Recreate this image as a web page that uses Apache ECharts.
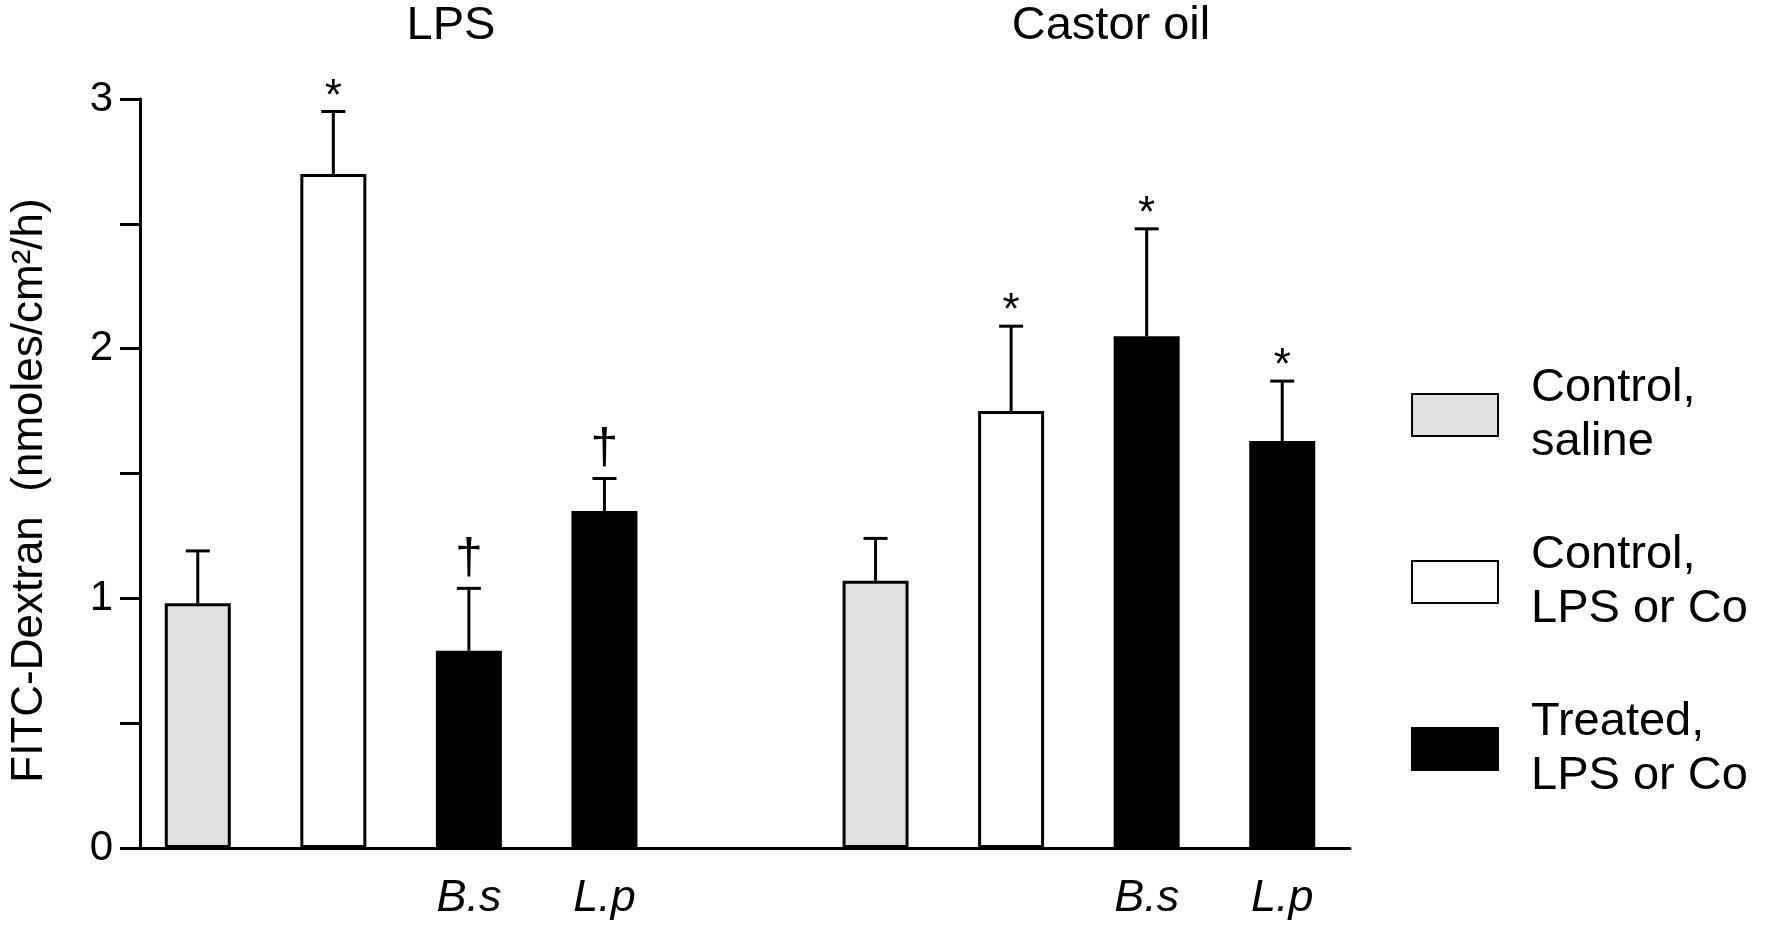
<!DOCTYPE html>
<html style="height: 100%">
<head>
    <meta charset="utf-8">
</head>
<body style="height: 100%; margin: 0; background: #fff">
<div id="container" style="height: 100%"></div>
<script type="text/javascript" src="https://cdn.jsdelivr.net/npm/echarts@6/dist/echarts.min.js"></script>
<script type="text/javascript">
    // slots: LPS (4 bars), spacer, Castor oil (4 bars)
    var categories = ['', '', 'B.s', 'L.p', '', '', '', 'B.s', 'L.p'];
    var salineVals = [0.98, '-', '-', '-', '-', 1.07, '-', '-', '-'];
    var controlVals = ['-', 2.70, '-', '-', '-', '-', 1.75, '-', '-'];
    var treatedVals = ['-', '-', 0.79, 1.35, '-', '-', '-', 2.05, 1.63];
    var errors = [0.21, 0.25, 0.25, 0.13, null, 0.17, 0.34, 0.43, 0.24];
    var marks = ['', '*', '\u2020', '\u2020', '', '', '*', '*', '*'];
    var groupTitles = ['LPS', 'Castor oil'];
    var legendNames = ['Control,\nsaline', 'Control,\nLPS or Co', 'Treated,\nLPS or Co'];

    var FONT = '"Liberation Sans", Arial, sans-serif';

    var errData = [];
    for (var i = 0; i < categories.length; i++) {
        var v = [salineVals[i], controlVals[i], treatedVals[i]].filter(function (x) { return x !== '-'; })[0];
        if (v === undefined) continue;
        errData.push([i, v, errors[i], marks[i]]);
    }

    var dom = document.getElementById('container');
    var myChart = echarts.init(dom);

    function barSeries(name, data, color) {
        return {
            name: name,
            type: 'bar',
            data: data,
            barWidth: 66,
            barGap: '-100%',
            itemStyle: {color: color, borderColor: '#000', borderWidth: 3},
            z: 2
        };
    }

    var option = {
        animation: false,
        textStyle: {fontFamily: FONT, color: '#000'},
        grid: {left: 127, right: 418, top: 99, bottom: 83},
        graphic: [
            {type: 'text', x: 451, y: 26, style: {text: groupTitles[0], font: '47px ' + FONT, fill: '#000', textAlign: 'center', textVerticalAlign: 'middle'}},
            {type: 'text', x: 1111, y: 26, style: {text: groupTitles[1], font: '47px ' + FONT, fill: '#000', textAlign: 'center', textVerticalAlign: 'middle'}}
        ],
        legend: {
            orient: 'vertical',
            left: 1406,
            top: 356,
            itemWidth: 86,
            itemHeight: 42,
            itemGap: 59,
            icon: 'rect',
            selectedMode: false,
            textStyle: {fontSize: 47, lineHeight: 54, color: '#000', fontFamily: FONT, padding: [0, 0, 0, 28]},
            data: legendNames
        },
        xAxis: {
            type: 'category',
            data: categories,
            axisLine: {lineStyle: {color: '#000', width: 3}},
            axisTick: {show: false},
            axisLabel: {fontSize: 45, fontStyle: 'italic', color: '#000', margin: 28, interval: 0, fontFamily: FONT}
        },
        yAxis: {
            type: 'value',
            min: 0,
            max: 3,
            interval: 0.5,
            offset: -10,
            name: 'FITC-Dextran  (nmoles/cm\u00b2/h)',
            nameLocation: 'middle',
            nameRotate: 90,
            nameGap: 88,
            nameTextStyle: {fontSize: 44, color: '#000', fontFamily: FONT, padding: [0, 34, 0, 0]},
            splitLine: {show: false},
            axisLine: {show: true, lineStyle: {color: '#000', width: 3}},
            axisTick: {show: true, length: 20, lineStyle: {color: '#000', width: 3}},
            axisLabel: {
                fontSize: 42, color: '#000', margin: 27, fontFamily: FONT,
                formatter: function (v) { return v % 1 === 0 ? String(v) : ''; }
            }
        },
        series: [
            barSeries(legendNames[0], salineVals, '#e0e0e0'),
            barSeries(legendNames[1], controlVals, '#ffffff'),
            barSeries(legendNames[2], treatedVals, '#000000'),
            {
                type: 'custom',
                data: errData,
                z: 3,
                silent: true,
                renderItem: function (params, api) {
                    var x = api.value(0);
                    var top = api.coord([x, api.value(1)]);
                    var end = api.coord([x, api.value(1) + api.value(2)]);
                    var cap = 12;
                    var children = [
                        {type: 'line', shape: {x1: top[0], y1: top[1], x2: end[0], y2: end[1]}, style: {stroke: '#000', lineWidth: 3}},
                        {type: 'line', shape: {x1: end[0] - cap, y1: end[1], x2: end[0] + cap, y2: end[1]}, style: {stroke: '#000', lineWidth: 3}}
                    ];
                    var m = errData[params.dataIndex][3];
                    if (m) {
                        children.push({
                            type: 'text',
                            x: end[0],
                            y: end[1] - (m === '*' ? -8 : 4),
                            style: {text: m, font: (m === '*' ? '44px ' : '50px ') + FONT, fill: '#000', textAlign: 'center', textVerticalAlign: 'bottom'}
                        });
                    }
                    return {type: 'group', children: children};
                }
            }
        ]
    };

    myChart.setOption(option);
</script>
</body>
</html>
